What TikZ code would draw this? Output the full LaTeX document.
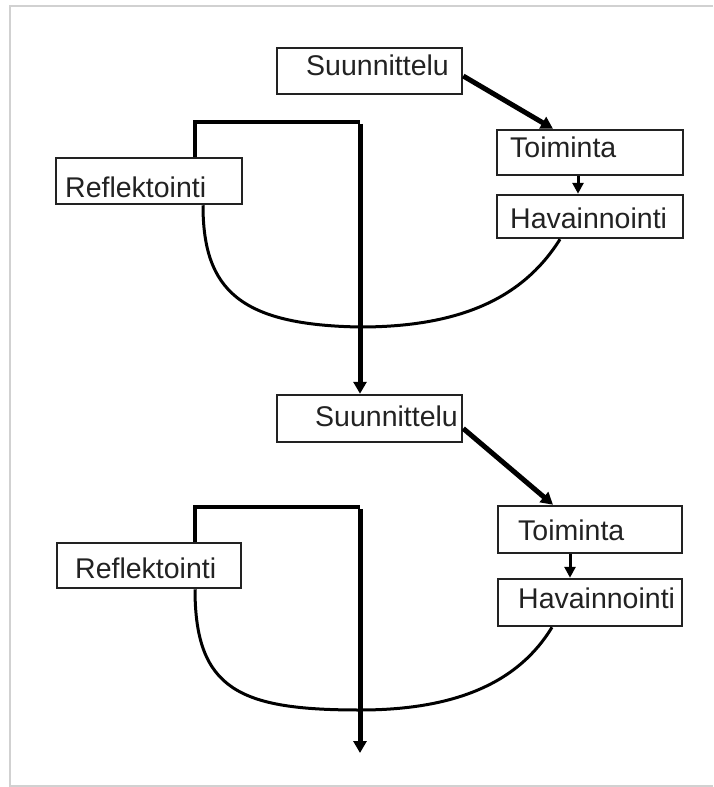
\documentclass[tikz,border=0pt]{standalone}
\usepackage{fontspec}
\setmainfont{Liberation Sans}
\usetikzlibrary{arrows.meta}
\definecolor{ink}{HTML}{222222}
\tikzset{
  box/.style={draw=ink, line width=2.5pt, rectangle, inner sep=0pt},
  lbl/.style={text=ink, inner sep=0pt, anchor=base west, font=\fontsize{28.5}{32}\selectfont},
  heavy/.style={line width=5pt, -{Triangle[length=12pt,width=13pt]}},
  small/.style={line width=3pt, -{Triangle[length=11pt,width=11pt]}},
  loop/.style={line width=3.5pt},
  curve/.style={line width=3pt},
  frame/.style={draw=black!18, line width=2pt}
}
\begin{document}
\begin{tikzpicture}[x=1pt,y=-1pt]
\useasboundingbox (0,0) rectangle (713,787);
\fill[white] (0,0) rectangle (713,787);
\draw[frame] (10,787) -- (10,6) -- (713,6);
\draw[frame] (10,786) -- (713,786);

% upper cycle
\node[box, minimum width=185pt, minimum height=46pt] (s1) at (369.5,71) {};
\node[lbl] (s1t) at (306,75) {Suunnittelu};
\node[box, minimum width=186pt, minimum height=45pt] (t1) at (590,152.5) {};
\node[lbl] (t1t) at (510,157) {Toiminta};
\node[box, minimum width=186pt, minimum height=43pt] (h1) at (590,216.5) {};
\node[lbl] (h1t) at (510,228) {Havainnointi};
\node[box, minimum width=186pt, minimum height=46pt] (r1) at (149,181) {};
\node[lbl] (r1t) at (65,197) {Reflektointi};

% lower cycle
\node[box, minimum width=185pt, minimum height=47pt] (s2) at (369.5,418.5) {};
\node[lbl] (s2t) at (315,426) {Suunnittelu};
\node[box, minimum width=184pt, minimum height=47pt] (t2) at (590,529.5) {};
\node[lbl] (t2t) at (518,540) {Toiminta};
\node[box, minimum width=184pt, minimum height=47pt] (h2) at (590,602.5) {};
\node[lbl] (h2t) at (518,608) {Havainnointi};
\node[box, minimum width=184pt, minimum height=45pt] (r2) at (149,565.5) {};
\node[lbl] (r2t) at (75,578) {Reflektointi};

\coordinate (c1) at (360,122);
\coordinate (c2) at (360,507);
\coordinate (end) at (360,753);
\coordinate (low1) at (360,327);
\coordinate (low2) at (360,710);

% upper connectors
\draw[heavy] ([yshift=-5pt]s1.east) -- ([xshift=-37pt]t1.north);
\draw[small] ([xshift=-12pt]t1.south) -- ([xshift=-12pt]h1.north);
\draw[loop] ([xshift=46pt]r1.north) |- (c1);
\draw[heavy] ([yshift=-1.75pt]c1) -- (c1 |- s2.north);
\draw[curve] ([xshift=54pt]r1.south) .. controls (203,290) and (240,325) .. (low1)
   .. controls (465,327) and (525,295) .. ([xshift=-30pt]h1.south);

% lower connectors
\draw[heavy] ([yshift=-10pt]s2.east) -- ([xshift=-37pt]t2.north);
\draw[small] ([xshift=-20pt]t2.south) -- ([xshift=-20pt]h2.north);
\draw[loop] ([xshift=46pt]r2.north) |- (c2);
\draw[heavy] ([yshift=-1.75pt]c2) -- (end);
\draw[curve] ([xshift=46pt]r2.south) .. controls (195,690) and (240,710) .. (low2)
   .. controls (460,710) and (520,680) .. ([xshift=-38pt]h2.south);
\end{tikzpicture}
\end{document}
